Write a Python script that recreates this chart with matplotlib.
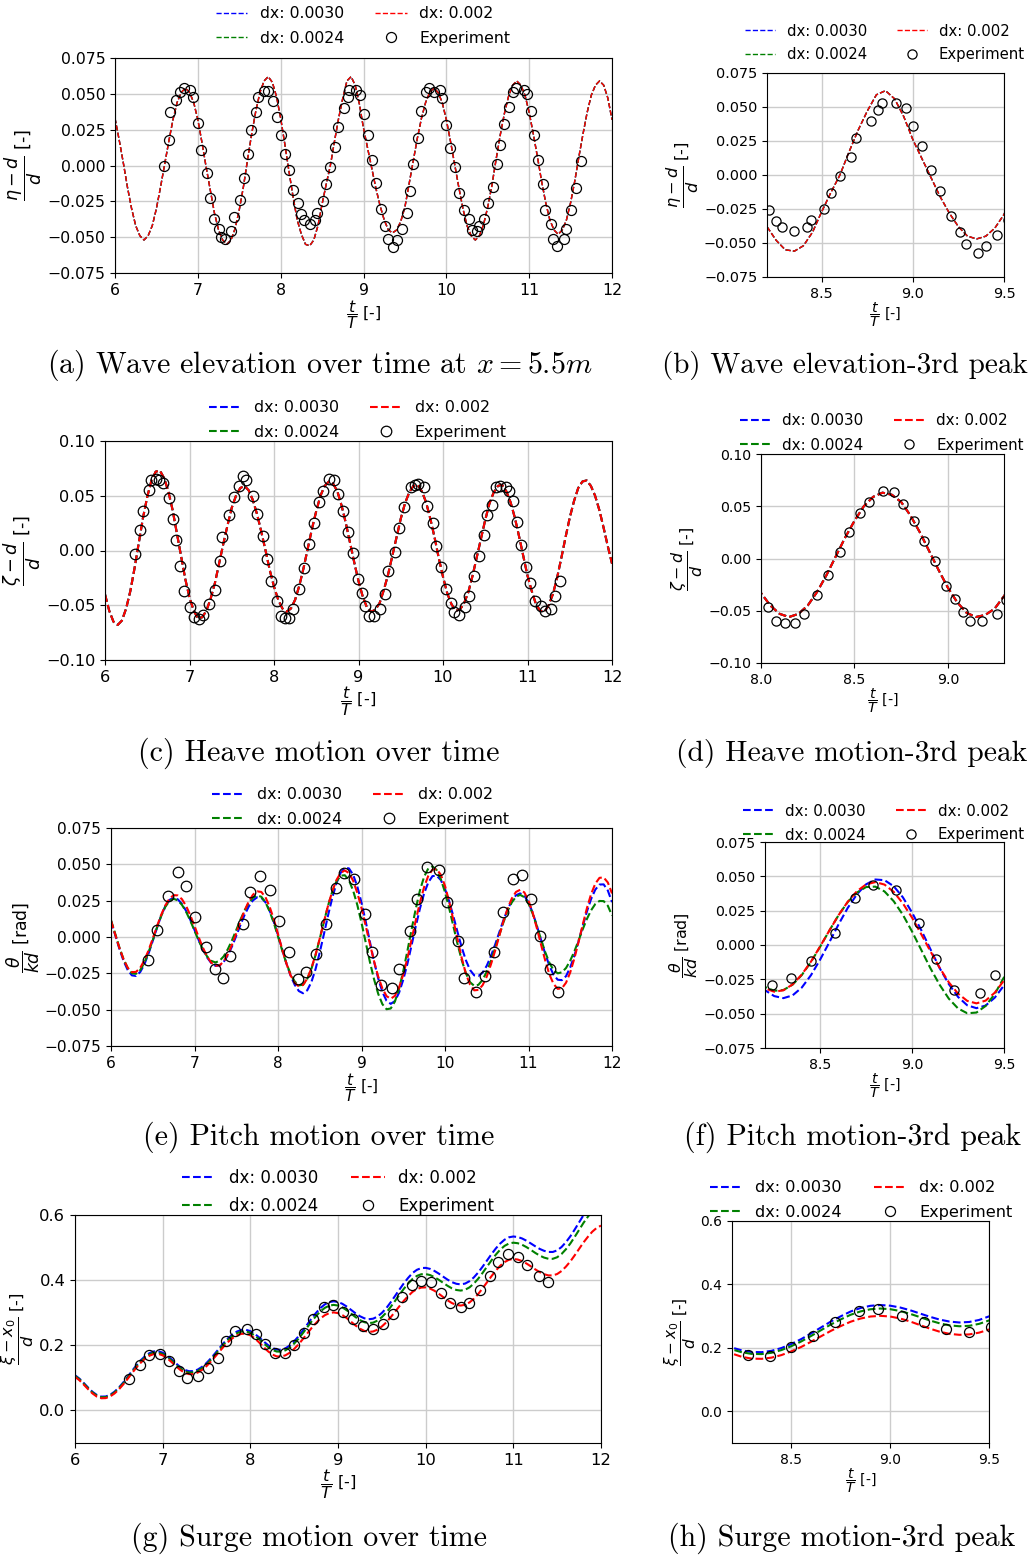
import numpy as np
import matplotlib.pyplot as plt

W, H = 1033, 1555

# time grid of the simulations, t/T
t = np.round(np.arange(6.0, 12.0001, 0.05), 2)

# wave elevation (the three resolutions lie on top of each other)
wave_sim = [0.033, 0.018, 0.002, -0.015, -0.030, -0.042, -0.049, -0.052, -0.049, -0.042,
            -0.030, -0.015, 0.001, 0.017, 0.032, 0.044, 0.051, 0.054, 0.051, 0.044,
            0.032, 0.016, -0.001, -0.017, -0.033, -0.045, -0.052, -0.055, -0.052, -0.044,
            -0.031, -0.015, 0.004, 0.022, 0.038, 0.051, 0.059, 0.062, 0.058, 0.048,
            0.033, 0.015, -0.004, -0.022, -0.038, -0.048, -0.055, -0.056, -0.052, -0.042,
            -0.027, -0.013, 0.000, 0.017, 0.033, 0.047, 0.059, 0.062, 0.056, 0.043,
            0.026, 0.012, -0.002, -0.016, -0.028, -0.038, -0.045, -0.047, -0.045, -0.039,
            -0.029, -0.013, 0.003, 0.019, 0.033, 0.044, 0.051, 0.054, 0.051, 0.044,
            0.032, 0.017, 0.001, -0.015, -0.030, -0.042, -0.049, -0.052, -0.049, -0.041,
            -0.029, -0.014, 0.004, 0.021, 0.036, 0.048, 0.056, 0.059, 0.056, 0.049,
            0.037, 0.022, 0.006, -0.011, -0.026, -0.038, -0.045, -0.048, -0.045, -0.038,
            -0.026, -0.011, 0.006, 0.022, 0.037, 0.049, 0.056, 0.059, 0.056, 0.047,
            0.032]

heave_sim = [-0.040, -0.055, -0.065, -0.068, -0.064, -0.053, -0.037, -0.016, 0.007, 0.030,
             0.049, 0.064, 0.072, 0.073, 0.066, 0.054, 0.037, 0.016, -0.005, -0.026,
             -0.043, -0.055, -0.062, -0.061, -0.055, -0.044, -0.030, -0.012, 0.006, 0.023,
             0.039, 0.050, 0.057, 0.059, 0.055, 0.046, 0.033, 0.017, 0.000, -0.018,
             -0.033, -0.045, -0.053, -0.056, -0.053, -0.045, -0.032, -0.016, 0.002, 0.020,
             0.036, 0.050, 0.059, 0.063, 0.061, 0.054, 0.041, 0.025, 0.007, -0.011,
             -0.028, -0.042, -0.052, -0.056, -0.054, -0.048, -0.036, -0.022, -0.005, 0.012,
             0.029, 0.043, 0.053, 0.059, 0.060, 0.054, 0.044, 0.029, 0.012, -0.007,
             -0.024, -0.039, -0.049, -0.055, -0.054, -0.048, -0.038, -0.023, -0.006, 0.011,
             0.028, 0.043, 0.053, 0.059, 0.060, 0.054, 0.044, 0.030, 0.013, -0.005,
             -0.023, -0.037, -0.049, -0.055, -0.056, -0.050, -0.040, -0.025, -0.007, 0.012,
             0.030, 0.045, 0.057, 0.063, 0.064, 0.059, 0.050, 0.037, 0.021, 0.004,
             -0.012]

pitch_30 = [0.011, 0.0015, -0.008, -0.0164, -0.0227, -0.0264, -0.0268, -0.0241, -0.0188, -0.0113,
            -0.0027, 0.0062, 0.0145, 0.0212, 0.0255, 0.027, 0.0259, 0.0228, 0.0179, 0.0118,
            0.0049, -0.0021, -0.0086, -0.014, -0.0179, -0.0198, -0.0196, -0.0171, -0.0125, -0.0064,
            0.0008, 0.0082, 0.0152, 0.021, 0.0252, 0.0273, 0.027, 0.0239, 0.0182, 0.0103,
            0.0013, -0.0085, -0.0181, -0.0264, -0.0329, -0.0372, -0.0387, -0.0367, -0.031, -0.022,
            -0.0106, 0.002, 0.015, 0.027, 0.0369, 0.0442, 0.0477, 0.0472, 0.0428, 0.0347,
            0.0236, 0.0108, -0.0031, -0.0168, -0.0285, -0.0378, -0.0439, -0.046, -0.0441, -0.0383,
            -0.0294, -0.0184, -0.0056, 0.0074, 0.0196, 0.030, 0.0376, 0.0419, 0.0422, 0.0392,
            0.033, 0.0245, 0.0143, 0.0034, -0.0071, -0.016, -0.0227, -0.0264, -0.0268, -0.0245,
            -0.0198, -0.0131, -0.0053, 0.0032, 0.0116, 0.0189, 0.0249, 0.0287, 0.030, 0.0284,
            0.0239, 0.0167, 0.0078, -0.002, -0.0115, -0.0197, -0.026, -0.0294, -0.0297, -0.0269,
            -0.0209, -0.0127, -0.0029, 0.0076, 0.0176, 0.0262, 0.0326, 0.0361, 0.0362, 0.032,
            0.024]

pitch_24 = [0.0116, 0.0023, -0.0071, -0.0152, -0.0213, -0.025, -0.0253, -0.0228, -0.0176, -0.0105,
            -0.0022, 0.0064, 0.0143, 0.0207, 0.0248, 0.0263, 0.0252, 0.0221, 0.0173, 0.0112,
            0.0044, -0.0024, -0.0085, -0.0133, -0.0164, -0.0175, -0.0164, -0.0133, -0.0083, -0.0021,
            0.0048, 0.0119, 0.0183, 0.0235, 0.027, 0.0286, 0.0277, 0.0239, 0.0176, 0.0097,
            0.0004, -0.0092, -0.018, -0.0254, -0.0306, -0.0333, -0.0328, -0.0289, -0.0219, -0.0124,
            -0.0012, 0.0105, 0.0217, 0.0313, 0.0382, 0.0422, 0.0425, 0.039, 0.0319, 0.022,
            0.0098, -0.0036, -0.017, -0.029, -0.0391, -0.0462, -0.0497, -0.0492, -0.0444, -0.0356,
            -0.0235, -0.0095, 0.0053, 0.0195, 0.0321, 0.0415, 0.0472, 0.0486, 0.0461, 0.0398,
            0.0309, 0.0198, 0.0075, -0.0048, -0.0159, -0.0249, -0.0311, -0.0336, -0.0329, -0.0295,
            -0.0239, -0.0165, -0.0078, 0.0013, 0.0101, 0.0178, 0.0238, 0.0277, 0.029, 0.0274,
            0.023, 0.016, 0.0075, -0.0016, -0.0104, -0.0177, -0.0228, -0.025, -0.0243, -0.0213,
            -0.0162, -0.0098, -0.0023, 0.0054, 0.0125, 0.0184, 0.0227, 0.0248, 0.0247, 0.0215,
            0.0148]

pitch_20 = [0.0112, 0.0018, -0.0074, -0.0153, -0.0212, -0.0242, -0.024, -0.0212, -0.016, -0.0091,
            -0.0011, 0.0073, 0.0151, 0.0217, 0.0264, 0.0288, 0.0286, 0.026, 0.0213, 0.0149,
            0.0076, -0.0001, -0.0073, -0.0133, -0.0176, -0.0198, -0.0195, -0.0169, -0.0118, -0.0052,
            0.0025, 0.0107, 0.0182, 0.0245, 0.0291, 0.0314, 0.031, 0.0274, 0.0208, 0.0122,
            0.002, -0.0084, -0.0181, -0.0263, -0.0316, -0.034, -0.033, -0.0287, -0.0215, -0.0121,
            -0.001, 0.0105, 0.0217, 0.0315, 0.0392, 0.0441, 0.0458, 0.044, 0.0387, 0.0303,
            0.0199, 0.0078, -0.0046, -0.0166, -0.0272, -0.0354, -0.0407, -0.0425, -0.0405, -0.0347,
            -0.0258, -0.0146, -0.0017, 0.0115, 0.0238, 0.0344, 0.0421, 0.0464, 0.0467, 0.0428,
            0.0352, 0.0244, 0.0117, -0.0017, -0.0144, -0.0252, -0.0328, -0.0367, -0.0364, -0.0332,
            -0.0272, -0.0189, -0.0095, 0.0008, 0.0109, 0.0196, 0.0265, 0.031, 0.0325, 0.0307,
            0.025, 0.0168, 0.0061, -0.0052, -0.0161, -0.0257, -0.0323, -0.0357, -0.0353, -0.0314,
            -0.0243, -0.0146, -0.0033, 0.0086, 0.0199, 0.0296, 0.0367, 0.0407, 0.041, 0.0375,
            0.030]

surge_30 = [0.108, 0.0977, 0.0842, 0.070, 0.057, 0.0473, 0.0424, 0.0428, 0.0479, 0.0573,
            0.070, 0.0857, 0.103, 0.121, 0.1385, 0.1539, 0.1669, 0.176, 0.1812, 0.1816,
            0.1773, 0.1687, 0.1572, 0.1448, 0.1334, 0.1247, 0.1204, 0.1208, 0.1254, 0.134,
            0.1456, 0.1599, 0.1758, 0.1922, 0.2082, 0.2223, 0.2342, 0.2425, 0.2472, 0.2476,
            0.2435, 0.2352, 0.2243, 0.2122, 0.2009, 0.1919, 0.1869, 0.1864, 0.1906, 0.1994,
            0.2122, 0.2276, 0.2455, 0.2642, 0.283, 0.2995, 0.3146, 0.3256, 0.3326, 0.335,
            0.333, 0.3273, 0.3188, 0.3085, 0.2982, 0.2892, 0.2829, 0.280, 0.2816, 0.288,
            0.2993, 0.3137, 0.3317, 0.3511, 0.3708, 0.390, 0.407, 0.4219, 0.4317, 0.4371,
            0.4377, 0.4346, 0.4283, 0.420, 0.4106, 0.4015, 0.3938, 0.3888, 0.387, 0.3895,
            0.3968, 0.4085, 0.4237, 0.4415, 0.4605, 0.4795, 0.4972, 0.5125, 0.5242, 0.5315,
            0.534, 0.5324, 0.5279, 0.521, 0.5126, 0.504, 0.496, 0.4901, 0.4866, 0.4865,
            0.4914, 0.5017, 0.5166, 0.5345, 0.5554, 0.5773, 0.5993, 0.6186, 0.6362, 0.649,
            0.6572]

surge_24 = [0.1061, 0.0957, 0.0822, 0.068, 0.055, 0.0453, 0.0404, 0.0408, 0.0458, 0.055,
            0.0676, 0.0831, 0.1002, 0.1178, 0.1351, 0.1503, 0.1631, 0.1721, 0.1772, 0.1776,
            0.1733, 0.1647, 0.1532, 0.1408, 0.1294, 0.1207, 0.1164, 0.1168, 0.1213, 0.1298,
            0.1414, 0.1556, 0.1714, 0.1876, 0.2035, 0.2175, 0.2293, 0.2375, 0.2422, 0.2426,
            0.2384, 0.230, 0.2189, 0.2066, 0.1951, 0.186, 0.1809, 0.1804, 0.1845, 0.193,
            0.2053, 0.2202, 0.2375, 0.2556, 0.2737, 0.2897, 0.3043, 0.3149, 0.3217, 0.324,
            0.322, 0.3162, 0.3075, 0.2971, 0.2865, 0.2774, 0.271, 0.2681, 0.2695, 0.2757,
            0.2864, 0.3002, 0.3174, 0.3359, 0.3548, 0.3731, 0.3894, 0.4036, 0.413, 0.4181,
            0.4187, 0.4156, 0.4093, 0.401, 0.3916, 0.3825, 0.3748, 0.3698, 0.368, 0.3705,
            0.3778, 0.3895, 0.4047, 0.4225, 0.4415, 0.4605, 0.4782, 0.4935, 0.5052, 0.5125,
            0.515, 0.5134, 0.5086, 0.5014, 0.4928, 0.4837, 0.4755, 0.4693, 0.4656, 0.4655,
            0.4703, 0.4803, 0.4949, 0.5124, 0.5328, 0.5542, 0.5757, 0.5945, 0.6117, 0.6243,
            0.6323]

surge_20 = [0.1031, 0.0927, 0.0792, 0.065, 0.052, 0.0423, 0.0374, 0.0378, 0.0428, 0.0519,
            0.0644, 0.0797, 0.0967, 0.1143, 0.1314, 0.1465, 0.1592, 0.1681, 0.1732, 0.1736,
            0.1692, 0.1605, 0.1488, 0.1362, 0.1246, 0.1157, 0.1114, 0.1117, 0.1162, 0.1246,
            0.136, 0.150, 0.1655, 0.1815, 0.1971, 0.2109, 0.2225, 0.2306, 0.2352, 0.2356,
            0.2308, 0.2214, 0.2088, 0.195, 0.182, 0.1717, 0.166, 0.1654, 0.1692, 0.1772,
            0.1889, 0.2029, 0.2193, 0.2364, 0.2535, 0.2686, 0.2824, 0.2924, 0.2988, 0.301,
            0.2988, 0.2926, 0.2834, 0.2721, 0.2608, 0.251, 0.2442, 0.2411, 0.2424, 0.248,
            0.2577, 0.2702, 0.2858, 0.3026, 0.3198, 0.3364, 0.3511, 0.364, 0.3725, 0.3772,
            0.3777, 0.3742, 0.3674, 0.3583, 0.3479, 0.338, 0.3295, 0.324, 0.322, 0.3244,
            0.3316, 0.3429, 0.3577, 0.3751, 0.3935, 0.4119, 0.4292, 0.4441, 0.4554, 0.4626,
            0.465, 0.4633, 0.4585, 0.4511, 0.4423, 0.4331, 0.4247, 0.4183, 0.4146, 0.4144,
            0.4188, 0.428, 0.4415, 0.4575, 0.4762, 0.4959, 0.5156, 0.5329, 0.5486, 0.5602,
            0.5675]

# experiment
wave_exp_t = [6.59, 6.65, 6.67, 6.74, 6.78, 6.83, 6.90, 6.94, 7.00, 7.04,
              7.11, 7.15, 7.20, 7.25, 7.28, 7.33, 7.40, 7.44, 7.51, 7.56,
              7.60, 7.64, 7.70, 7.73, 7.80, 7.85, 7.91, 7.95, 8.00, 8.05,
              8.10, 8.15, 8.21, 8.25, 8.28, 8.35, 8.42, 8.44, 8.51, 8.55,
              8.60, 8.66, 8.69, 8.77, 8.81, 8.83, 8.91, 8.96, 9.00, 9.05,
              9.10, 9.15, 9.21, 9.26, 9.29, 9.36, 9.40, 9.46, 9.52, 9.56,
              9.60, 9.66, 9.70, 9.75, 9.79, 9.85, 9.92, 9.95, 10.00, 10.05,
              10.11, 10.15, 10.21, 10.27, 10.31, 10.37, 10.40, 10.45, 10.50, 10.56,
              10.61, 10.65, 10.70, 10.76, 10.81, 10.84, 10.94, 10.97, 11.02, 11.06,
              11.11, 11.17, 11.19, 11.26, 11.29, 11.34, 11.42, 11.45, 11.51, 11.56,
              11.62]
wave_exp = [0.000, 0.018, 0.037, 0.046, 0.051, 0.054, 0.053, 0.048, 0.030, 0.011,
            -0.005, -0.023, -0.037, -0.044, -0.050, -0.051, -0.046, -0.036, -0.024, -0.009,
            0.008, 0.025, 0.037, 0.048, 0.052, 0.052, 0.045, 0.034, 0.021, 0.008,
            -0.003, -0.017, -0.026, -0.034, -0.038, -0.041, -0.038, -0.033, -0.025, -0.013,
            -0.001, 0.013, 0.027, 0.040, 0.048, 0.053, 0.053, 0.049, 0.036, 0.021,
            0.004, -0.012, -0.030, -0.042, -0.051, -0.057, -0.052, -0.044, -0.033, -0.018,
            0.001, 0.019, 0.038, 0.051, 0.054, 0.051, 0.053, 0.047, 0.028, 0.012,
            -0.001, -0.019, -0.031, -0.037, -0.045, -0.046, -0.042, -0.037, -0.026, -0.015,
            0.001, 0.014, 0.029, 0.041, 0.051, 0.054, 0.053, 0.050, 0.038, 0.021,
            0.004, -0.013, -0.031, -0.041, -0.051, -0.056, -0.051, -0.044, -0.031, -0.016,
            0.003]

heave_exp_t = [6.36, 6.42, 6.45, 6.52, 6.55, 6.60, 6.64, 6.69, 6.76, 6.81,
               6.84, 6.89, 6.94, 7.00, 7.05, 7.11, 7.16, 7.23, 7.30, 7.36,
               7.39, 7.47, 7.53, 7.58, 7.63, 7.67, 7.75, 7.80, 7.87, 7.92,
               7.97, 8.04, 8.08, 8.13, 8.18, 8.23, 8.30, 8.36, 8.42, 8.47,
               8.53, 8.58, 8.65, 8.71, 8.76, 8.82, 8.87, 8.93, 8.99, 9.04,
               9.08, 9.12, 9.18, 9.26, 9.31, 9.35, 9.43, 9.48, 9.54, 9.62,
               9.67, 9.71, 9.77, 9.81, 9.88, 9.92, 9.98, 10.03, 10.09, 10.13,
               10.19, 10.26, 10.31, 10.37, 10.43, 10.48, 10.52, 10.58, 10.63, 10.68,
               10.74, 10.78, 10.83, 10.87, 10.92, 10.98, 11.03, 11.09, 11.16, 11.21,
               11.28, 11.33, 11.38]
heave_exp = [-0.003, 0.019, 0.036, 0.055, 0.064, 0.065, 0.064, 0.062, 0.048, 0.029,
             0.010, -0.014, -0.037, -0.052, -0.061, -0.063, -0.059, -0.049, -0.036, -0.010,
             0.012, 0.032, 0.049, 0.059, 0.068, 0.064, 0.050, 0.033, 0.013, -0.008,
             -0.028, -0.046, -0.060, -0.062, -0.062, -0.053, -0.035, -0.016, 0.006, 0.025,
             0.044, 0.054, 0.065, 0.064, 0.052, 0.036, 0.017, -0.002, -0.026, -0.039,
             -0.051, -0.060, -0.060, -0.053, -0.040, -0.019, -0.001, 0.021, 0.040, 0.058,
             0.060, 0.061, 0.058, 0.041, 0.025, 0.004, -0.015, -0.035, -0.048, -0.056,
             -0.059, -0.052, -0.042, -0.023, -0.005, 0.014, 0.032, 0.042, 0.058, 0.059,
             0.058, 0.054, 0.045, 0.026, 0.005, -0.015, -0.030, -0.046, -0.051, -0.055,
             -0.053, -0.042, -0.028]

pitch_exp_t = [6.44, 6.55, 6.68, 6.80, 6.90, 7.01, 7.14, 7.24, 7.34, 7.43,
               7.58, 7.66, 7.78, 7.91, 8.01, 8.13, 8.24, 8.34, 8.45, 8.58,
               8.69, 8.79, 8.91, 9.04, 9.13, 9.23, 9.37, 9.45, 9.58, 9.67,
               9.79, 9.93, 10.02, 10.15, 10.23, 10.37, 10.48, 10.59, 10.70, 10.81,
               10.92, 11.03, 11.14, 11.26, 11.35]
pitch_exp = [-0.016, 0.005, 0.028, 0.045, 0.035, 0.014, -0.007, -0.022, -0.028, -0.013,
             0.009, 0.031, 0.042, 0.032, 0.011, -0.010, -0.029, -0.024, -0.012, 0.009,
             0.034, 0.044, 0.040, 0.016, -0.010, -0.033, -0.035, -0.022, 0.004, 0.026,
             0.048, 0.046, 0.024, -0.003, -0.028, -0.038, -0.027, -0.010, 0.017, 0.040,
             0.043, 0.026, 0.001, -0.022, -0.038]

surge_exp_t = [6.62, 6.74, 6.84, 6.97, 7.07, 7.19, 7.28, 7.40, 7.52, 7.63,
               7.72, 7.83, 7.96, 8.07, 8.17, 8.28, 8.39, 8.50, 8.61, 8.72,
               8.84, 8.94, 9.06, 9.17, 9.28, 9.40, 9.51, 9.63, 9.73, 9.84,
               9.95, 10.06, 10.17, 10.28, 10.40, 10.50, 10.62, 10.73, 10.83, 10.94,
               11.05, 11.16, 11.29, 11.40]
surge_exp = [0.098, 0.139, 0.169, 0.172, 0.152, 0.121, 0.101, 0.105, 0.129, 0.162,
             0.213, 0.243, 0.251, 0.234, 0.205, 0.177, 0.175, 0.202, 0.237, 0.280,
             0.317, 0.324, 0.302, 0.280, 0.258, 0.251, 0.266, 0.295, 0.348, 0.384,
             0.397, 0.394, 0.361, 0.331, 0.317, 0.331, 0.370, 0.414, 0.455, 0.479,
             0.470, 0.447, 0.414, 0.394]

labels = ['dx: 0.0030', 'dx: 0.0024', 'dx: 0.002']
colors = ['b', 'g', 'r']
xlab = r'$\dfrac{t}{T}$ [-]'

fig = plt.figure(figsize=(W / 100, H / 100), dpi=100)


def rect(l, tp, r, b):
    return [l / W, 1 - b / H, (r - l) / W, (b - tp) / H]


def panel(box, sims, ex_t, ex_v, xlim, ylim, xt, yt, ylab, fs, fs_leg, lw, ms, leg, fs_lab):
    ax = fig.add_axes(rect(*box))
    for y, c, lab in zip(sims, colors, labels):
        ax.plot(t, y, '--', color=c, lw=lw, label=lab)
    ax.plot(ex_t, ex_v, 'o', mfc='none', mec='k', ms=ms, mew=0.9, label='Experiment')
    ax.set_xlim(xlim)
    ax.set_ylim(ylim)
    ax.set_xticks(xt)
    ax.set_yticks(yt)
    ax.tick_params(labelsize=fs)
    ax.grid(True, color='0.8', lw=1.0)
    ax.set_ylabel(ylab, fontsize=fs_lab, labelpad=2)
    ax.set_xlabel(xlab, fontsize=fs, labelpad=0)
    ax.legend(loc='center', ncol=2, frameon=False, fontsize=fs_leg, labelspacing=0.6,
              bbox_to_anchor=(leg[0] / W, 1 - leg[1] / H), bbox_transform=fig.transFigure)
    return ax


yt075 = [-0.075, -0.05, -0.025, 0.0, 0.025, 0.05, 0.075]
yt10 = [-0.10, -0.05, 0.0, 0.05, 0.10]
yts = [0.0, 0.2, 0.4, 0.6]
lab_eta = r'$\dfrac{\eta - d}{d}$ [-]'
lab_zeta = r'$\dfrac{\zeta - d}{d}$ [-]'
lab_theta = r'$\dfrac{\theta}{kd}$ [rad]'
lab_xi = r'$\dfrac{\xi - x_0}{d}$ [-]'

# wave elevation
panel((115, 58, 612, 273), [wave_sim] * 3, wave_exp_t, wave_exp, (6, 12), (-0.075, 0.075),
      range(6, 13), yt075, lab_eta, 11.3, 11.3, 1.0, 7.2, (363, 26), 12.6)
panel((767, 73, 1004, 277), [wave_sim] * 3, wave_exp_t, wave_exp, (8.2, 9.5), (-0.075, 0.075),
      [8.5, 9.0, 9.5], yt075, lab_eta, 10.4, 10.7, 1.0, 6.6, (885, 43), 11.6)

# heave
panel((105, 441, 612, 660), [heave_sim] * 3, heave_exp_t, heave_exp, (6, 12), (-0.1, 0.1),
      range(6, 13), yt10, lab_zeta, 11.6, 11.4, 1.5, 7.6, (358, 420), 12.8)
panel((761, 454, 1004, 663), [heave_sim] * 3, heave_exp_t, heave_exp, (8.0, 9.3), (-0.1, 0.1),
      [8.0, 8.5, 9.0], yt10, lab_zeta, 10.2, 10.9, 1.5, 6.6, (882, 433), 11.4)

# pitch
panel((111, 828, 612, 1046), [pitch_30, pitch_24, pitch_20], pitch_exp_t, pitch_exp, (6, 12),
      (-0.075, 0.075), range(6, 13), yt075, lab_theta, 11.1, 11.4, 1.5, 7.6, (361, 807), 12.4)
panel((765, 842, 1004, 1048), [pitch_30, pitch_24, pitch_20], pitch_exp_t, pitch_exp, (8.2, 9.5),
      (-0.075, 0.075), [8.5, 9.0, 9.5], yt075, lab_theta, 10.2, 10.8, 1.5, 6.6, (884, 823), 11.4)

# surge
panel((75, 1215, 601, 1443), [surge_30, surge_24, surge_20], surge_exp_t, surge_exp, (6, 12),
      (-0.1, 0.6), range(6, 13), yts, lab_xi, 11.8, 12.0, 1.5, 7.3, (338, 1192), 11.6)
panel((732, 1221, 989, 1443), [surge_30, surge_24, surge_20], surge_exp_t, surge_exp, (8.2, 9.5),
      (-0.1, 0.6), [8.5, 9.0, 9.5], yts, lab_xi, 10.0, 11.6, 1.5, 7.2, (861, 1200), 11.0)

captions = [(47, 365, '(a) Wave elevation over time at $x = 5.5m$', 21.5),
            (662, 365, '(b) Wave elevation-3rd peak', 21.0),
            (138, 753, '(c) Heave motion over time', 21.5),
            (676, 753, '(d) Heave motion-3rd peak', 21.3),
            (143, 1137, '(e) Pitch motion over time', 21.5),
            (684, 1137, '(f) Pitch motion-3rd peak', 21.5),
            (131, 1538, '(g) Surge motion over time', 21.5),
            (668, 1538, '(h) Surge motion-3rd peak', 21.5)]
for x, y, s, size in captions:
    fig.text(x / W, 1 - y / H, s, fontfamily='cmr10', math_fontfamily='cm',
             fontsize=size, ha='left', va='center')

plt.savefig('out.png', dpi=100)
